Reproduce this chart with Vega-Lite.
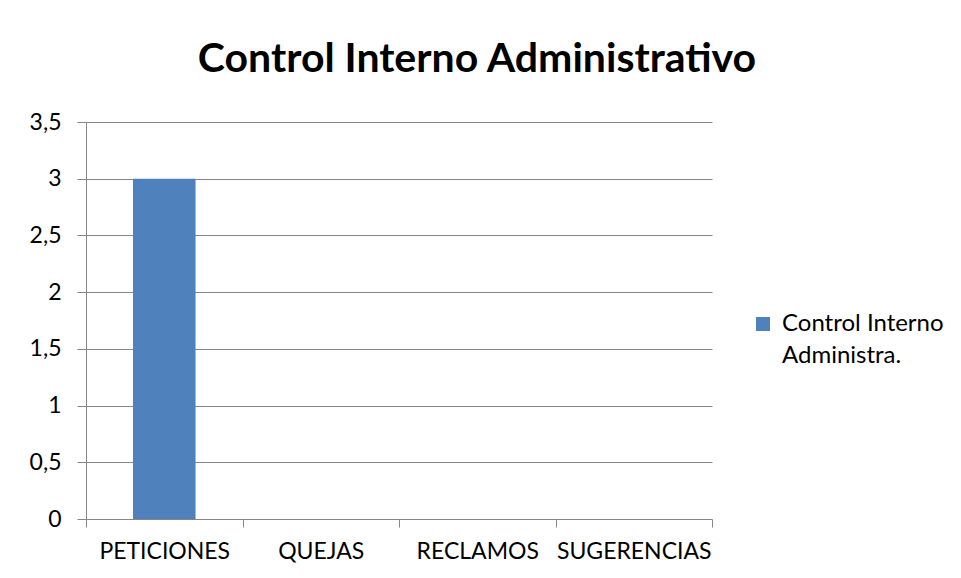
{
  "$schema": "https://vega.github.io/schema/vega-lite/v6.json",
  "width": 626,
  "height": 397,
  "autosize": {"type": "none"},
  "padding": {"left": 86, "top": 122, "right": 249, "bottom": 59},
  "background": "white",
  "title": {
    "text": "Control Interno Administrativo",
    "font": "Lato",
    "fontSize": 41,
    "fontWeight": "bold",
    "color": "black",
    "anchor": "middle",
    "frame": "group",
    "dx": 78,
    "offset": 30
  },
  "data": {
    "values": [
      {"categoria": "PETICIONES", "valor": 3, "serie": "Control Interno Administra."},
      {"categoria": "QUEJAS", "valor": 0, "serie": "Control Interno Administra."},
      {"categoria": "RECLAMOS", "valor": 0, "serie": "Control Interno Administra."},
      {"categoria": "SUGERENCIAS", "valor": 0, "serie": "Control Interno Administra."}
    ]
  },
  "mark": {"type": "bar", "width": {"band": 0.4}},
  "encoding": {
    "x": {
      "field": "categoria",
      "type": "nominal",
      "sort": null,
      "scale": {"paddingInner": 0, "paddingOuter": 0},
      "axis": {
        "title": null,
        "labelAngle": 0,
        "tickBand": "extent",
        "tickSize": 8,
        "labelPadding": 13,
        "labelFontSize": 23,
        "domain": false
      }
    },
    "y": {
      "field": "valor",
      "type": "quantitative",
      "scale": {"domain": [0, 3.5], "nice": false},
      "axis": {
        "title": null,
        "values": [0, 0.5, 1, 1.5, 2, 2.5, 3, 3.5],
        "labelExpr": "replace(format(datum.value, ''), '.', ',')",
        "tickSize": 9,
        "labelPadding": 16,
        "labelFontSize": 23,
        "grid": true
      }
    },
    "color": {
      "field": "serie",
      "type": "nominal",
      "scale": {"range": ["#4F81BD"]},
      "legend": {
        "title": null,
        "orient": "none",
        "legendX": 665,
        "legendY": 190,
        "symbolType": "square",
        "symbolSize": 196,
        "symbolStrokeWidth": 0,
        "labelFontSize": 24,
        "labelOffset": 7,
        "labelExpr": "['Control Interno', 'Administra.']",
        "labelLimit": 300,
        "encode": {"labels": {"update": {"lineHeight": {"value": 32}}}}
      }
    }
  },
  "config": {
    "font": "Lato",
    "view": {"stroke": null},
    "axis": {
      "labelFont": "Lato",
      "labelColor": "black",
      "domainColor": "#868686",
      "tickColor": "#868686",
      "gridColor": "#868686",
      "domainWidth": 1,
      "tickWidth": 1,
      "gridWidth": 1
    },
    "legend": {"labelFont": "Lato", "labelColor": "black"}
  }
}
